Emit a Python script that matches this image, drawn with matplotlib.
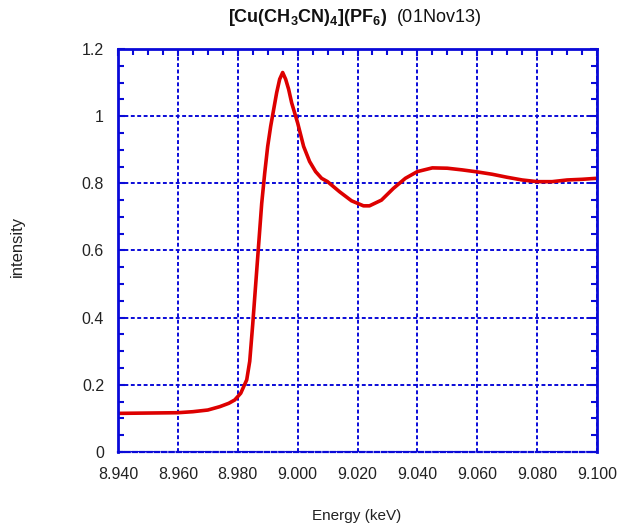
import matplotlib
matplotlib.use("Agg")
import matplotlib.pyplot as plt
from matplotlib.ticker import MultipleLocator, FuncFormatter

plt.rcParams['font.family'] = ['Liberation Sans', 'DejaVu Sans']
plt.rcParams['mathtext.fontset'] = 'custom'
plt.rcParams['mathtext.rm'] = 'Liberation Sans'
plt.rcParams['mathtext.bf'] = 'Liberation Sans:bold'

energy = [8.940, 8.950, 8.960, 8.965, 8.970, 8.974, 8.977, 8.979, 8.981, 8.983,
          8.984, 8.985, 8.986, 8.987, 8.988, 8.989, 8.990, 8.991, 8.992, 8.993,
          8.994, 8.995, 8.996, 8.997, 8.998, 9.000, 9.002, 9.004, 9.006, 9.008,
          9.010, 9.014, 9.018, 9.022, 9.024, 9.028, 9.032, 9.036, 9.040, 9.045,
          9.050, 9.055, 9.060, 9.065, 9.070, 9.075, 9.080, 9.085, 9.090, 9.095, 9.100]
intensity = [0.115, 0.116, 0.117, 0.120, 0.125, 0.135, 0.145, 0.155, 0.175, 0.215,
             0.270, 0.380, 0.500, 0.620, 0.740, 0.830, 0.910, 0.970, 1.020, 1.070,
             1.110, 1.130, 1.110, 1.080, 1.040, 0.980, 0.910, 0.865, 0.835, 0.815,
             0.805, 0.775, 0.748, 0.733, 0.733, 0.750, 0.785, 0.815, 0.835, 0.846,
             0.845, 0.840, 0.834, 0.827, 0.818, 0.810, 0.805, 0.805, 0.810, 0.812, 0.815]

x_ticks = [8.94, 8.96, 8.98, 9.00, 9.02, 9.04, 9.06, 9.08, 9.10]
y_ticks = [0, 0.2, 0.4, 0.6, 0.8, 1.0, 1.2]

blue = '#0a0ad8'
red = '#dd0000'
dash = (0, (2, 1.3))

fig = plt.figure(figsize=(6.19, 5.25), dpi=100)
ax = fig.add_axes([118/619, 1-452/525, (597-118)/619, (452-49)/525])

ax.plot(energy, intensity, color=red, lw=2.6, solid_joinstyle='round')

ax.set_xlim(8.94, 9.10)
ax.set_ylim(0, 1.2)
ax.set_xticks(x_ticks)
ax.set_yticks(y_ticks)
ax.xaxis.set_minor_locator(MultipleLocator(0.005))
ax.yaxis.set_minor_locator(MultipleLocator(0.05))
ax.xaxis.set_major_formatter(FuncFormatter(lambda v, p: f"{v:.3f}"))
ax.yaxis.set_major_formatter(FuncFormatter(lambda v, p: f"{v:g}"))

ax.grid(True, which='major', color=blue, linestyle=dash, linewidth=1.4)
ax.set_axisbelow(True)
for s in ax.spines.values():
    s.set_color(blue)
    s.set_linewidth(2)
ax.spines['bottom'].set_linestyle(dash)
ax.spines['bottom'].set_linewidth(1.6)
ax.tick_params(which='both', direction='in', top=True, right=True, bottom=False,
               color=blue, labelsize=11.5, labelcolor='#222222')
ax.tick_params(which='major', length=5, width=1.5)
ax.tick_params(axis='x', which='major', pad=11)
ax.tick_params(axis='y', which='major', pad=10)
ax.tick_params(which='minor', length=4, width=1.5)

fig.text(354/619, 1-18/525, r"$\mathbf{[Cu(CH_3CN)_4](PF_6)}$  (01Nov13)",
         ha='center', va='center', fontsize=13, color='#111111')
fig.text(357/619, 1-516/525, "Energy (keV)", ha='center', va='center', fontsize=11, color='#222222')
fig.text(17/619, 1-246/525, "intensity", ha='center', va='center', rotation=90, fontsize=12, color='#222222')

fig.savefig("out.png", dpi=100)
